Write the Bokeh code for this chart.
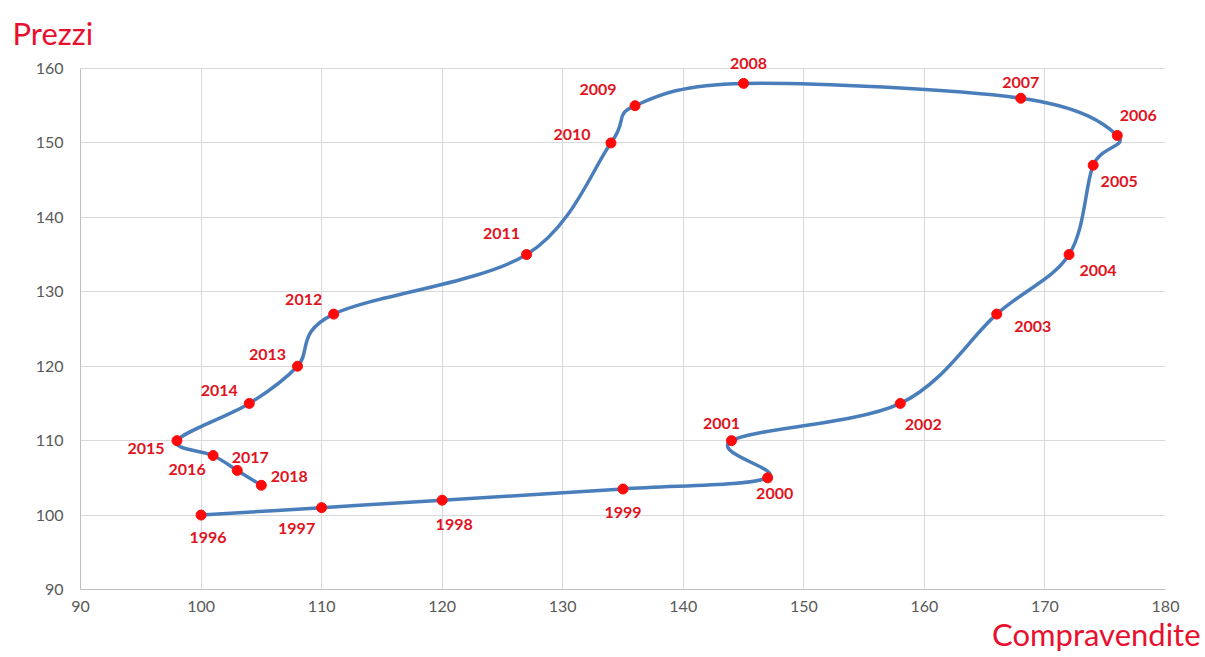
import numpy as np
from bokeh.plotting import figure
from bokeh.models import Range1d, SingleIntervalTicker, ColumnDataSource, BoxAnnotation, Title
from bokeh.core.properties import value
from bokeh.embed import file_html
from bokeh.resources import INLINE

# ---- data ----
years = [1996, 1997, 1998, 1999, 2000, 2001, 2002, 2003, 2004, 2005, 2006, 2007,
         2008, 2009, 2010, 2011, 2012, 2013, 2014, 2015, 2016, 2017, 2018]
compravendite = [100, 110, 120, 135, 147, 144, 158, 166, 172, 174, 176, 168,
                 145, 136, 134, 127, 111, 108, 104, 98, 101, 103, 105]
prezzi = [100, 101, 102, 103.5, 105, 110, 115, 127, 135, 147, 151, 156,
          158, 155, 150, 135, 127, 120, 115, 110, 108, 106, 104]
x_ticks = [90, 100, 110, 120, 130, 140, 150, 160, 170, 180]
y_ticks = [90, 100, 110, 120, 130, 140, 150, 160]
y_title = "Prezzi"
x_title = "Compravendite"

# label placement (screen pixels, relative to each point; +dy = down)
label_dx = [7, -25, 12, 0, 7, -10, 23, 36, 29, 26, 21, 0,
            5, -37, -39, -25, -30, -30, -30, -31, -26, 13, 28]
label_dy = [22, 21, 24, 23, 16, -17, 21, 12, 16, 16, -20, -16,
            -20, -16, -8, -21, -15, -12, -13, 8, 14, -13, -9]

RED_LABEL = "#e0141e"
RED_DOT = "#ff0a0a"
BLUE = "#4a7ebb"
TITLE_RED = "#e8102e"

# layout: plot area from px 80..1165 (x) and 68..589 (y); extra headroom above
PLOT_H = 589 - 68
HEAD = 17
px_per_unit = PLOT_H / (y_ticks[-1] - y_ticks[0])
y_top = y_ticks[-1] + HEAD / px_per_unit

p = figure(width=1205, height=657, output_backend="svg", toolbar_location=None,
           x_range=Range1d(x_ticks[0], x_ticks[-1]), y_range=Range1d(y_ticks[0], y_top),
           min_border_left=80, min_border_right=40, min_border_top=68 - HEAD,
           min_border_bottom=68)
p.outline_line_color = None
p.background_fill_color = "white"
p.border_fill_color = "white"

for ax in (p.xaxis, p.yaxis):
    ax.ticker = SingleIntervalTicker(interval=10)
    ax.major_tick_line_color = None
    ax.minor_tick_line_color = None
    ax.major_tick_out = 0
    ax.major_tick_in = 0
    ax.axis_line_color = "#bfbfbf"
    ax.axis_line_width = 1
    ax.major_label_text_color = "#595959"
    ax.major_label_text_font = "Lato"
    ax.major_label_text_font_size = "16px"
p.yaxis.bounds = (y_ticks[0], y_ticks[-1])
p.xaxis.major_label_standoff = 7
p.yaxis.major_label_standoff = 13

for g in (p.xgrid, p.ygrid):
    g.ticker = SingleIntervalTicker(interval=10)
    g.grid_line_color = "#d9d9d9"
    g.grid_line_width = 1

# white cover for the headroom above the top gridline
p.add_layout(BoxAnnotation(bottom=y_ticks[-1] + 0.6 / px_per_unit, fill_color="white",
                           fill_alpha=1, line_color=None, level="underlay"))

# smooth line (Excel-style smoothing through the points) via Bezier segments
X = np.array(compravendite, dtype=float)
Y = np.array(prezzi, dtype=float)
n = len(X)
Xp = np.concatenate([[X[0]], X, [X[-1]]])
Yp = np.concatenate([[Y[0]], Y, [Y[-1]]])
t = 1.0 / 6.0
i = np.arange(n - 1)
x0, y0 = X[i], Y[i]
x1, y1 = X[i + 1], Y[i + 1]
cx0 = X[i] + (Xp[i + 2] - Xp[i]) * t
cy0 = Y[i] + (Yp[i + 2] - Yp[i]) * t
cx1 = X[i + 1] - (Xp[i + 3] - Xp[i + 1]) * t
cy1 = Y[i + 1] - (Yp[i + 3] - Yp[i + 1]) * t
p.bezier(x0=x0, y0=y0, x1=x1, y1=y1, cx0=cx0, cy0=cy0, cx1=cx1, cy1=cy1,
         line_color=BLUE, line_width=3.5)

src = ColumnDataSource(dict(x=compravendite, y=prezzi, year=[str(v) for v in years],
                            dx=label_dx, dy=label_dy))
p.scatter("x", "y", source=src, size=10, fill_color=RED_DOT, line_color=RED_DOT)
p.text("x", "y", text="year", source=src, x_offset="dx", y_offset="dy",
       text_align="center", text_baseline="middle", text_color=RED_LABEL,
       text_font=value("Lato"), text_font_style="bold", text_font_size="16px")

# axis titles as plot titles (not clipped to the plot area)
p.add_layout(Title(text=y_title, align="left", offset=-68, standoff=0, vertical_align="bottom",
                   text_color=TITLE_RED, text_font="Lato", text_font_style="normal",
                   text_font_size="31px"), "above")
p.add_layout(Title(text=x_title, align="right", offset=-35, standoff=0, vertical_align="top",
                   text_color=TITLE_RED, text_font="Lato", text_font_style="normal",
                   text_font_size="31px"), "below")

open("out.html", "w").write(file_html(p, INLINE))
